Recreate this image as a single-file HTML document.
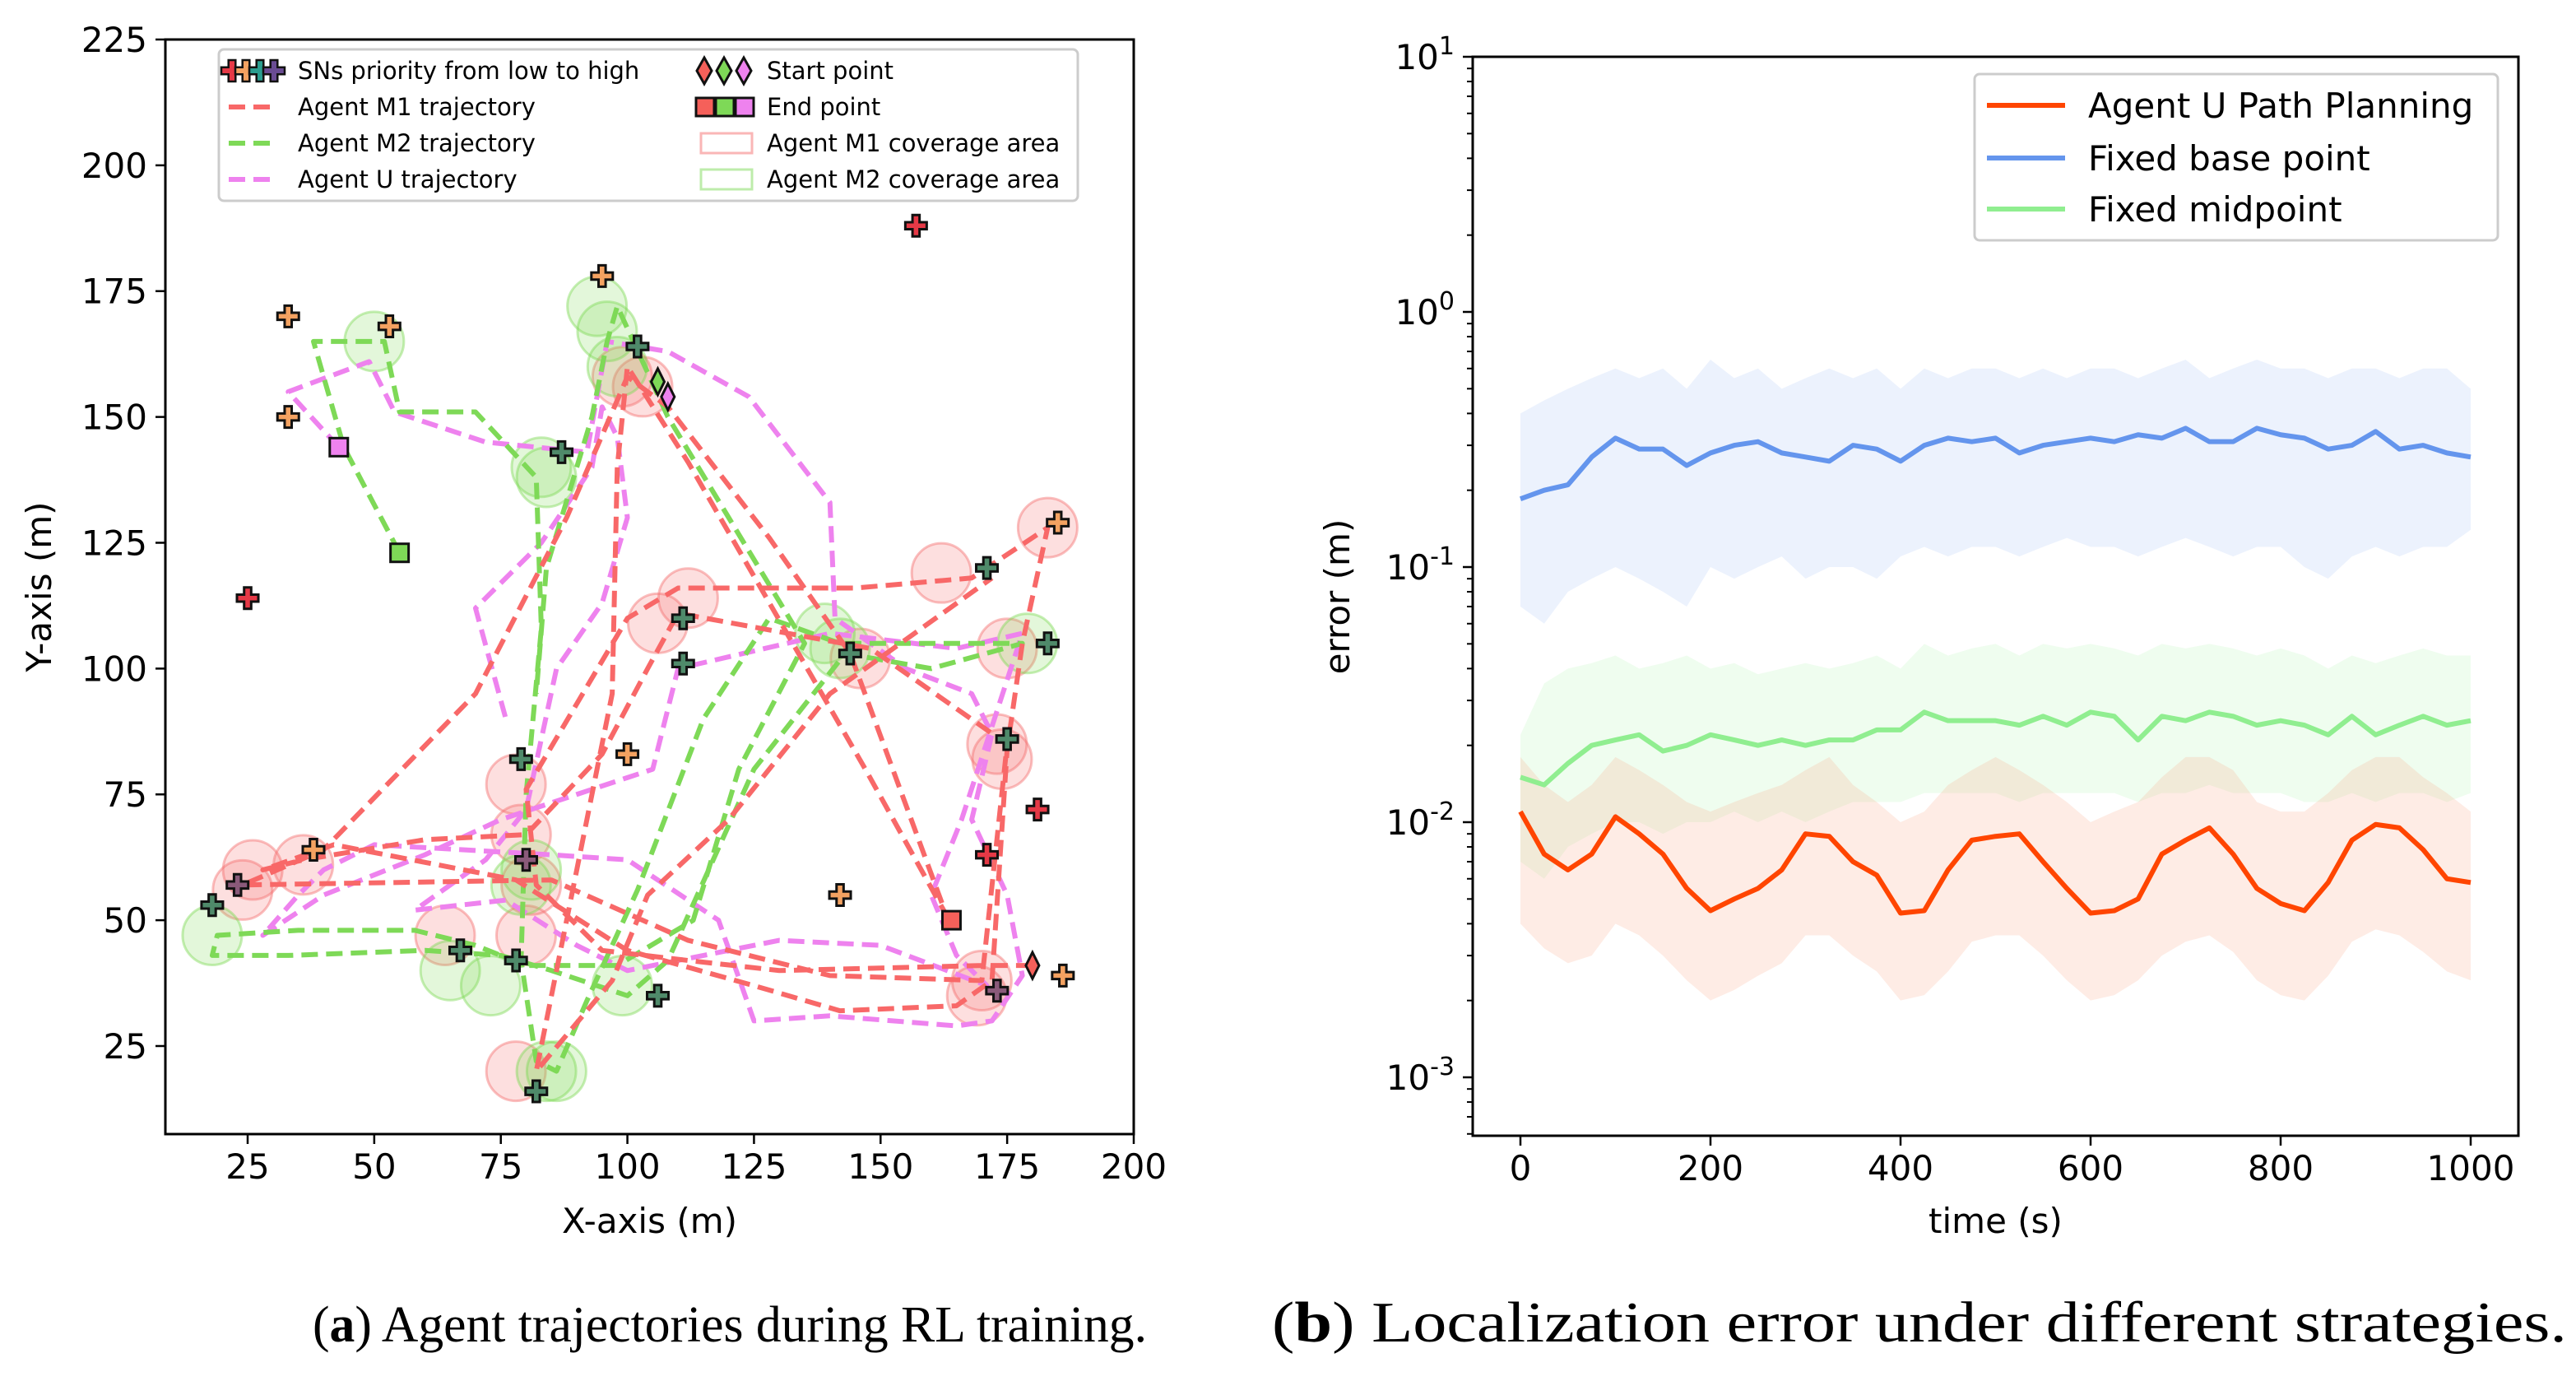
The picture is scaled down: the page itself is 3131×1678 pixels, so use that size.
<!DOCTYPE html>
<html><head><meta charset="utf-8"><style>
html,body{margin:0;padding:0;background:#fff;}
svg{display:block;}
text{font-family:"DejaVu Sans","Liberation Sans",sans-serif;}
.cap{font-family:"Liberation Serif",serif;font-size:62px;}
</style></head><body>
<svg id="fig" width="3131" height="1678" viewBox="0 0 3131 1678" xmlns="http://www.w3.org/2000/svg">
<g id="left"></g>
<g id="right"></g>
<text class="cap" x="380" y="1630" textLength="1014" lengthAdjust="spacingAndGlyphs">(<tspan font-weight="bold">a</tspan>) Agent trajectories during RL training.</text>
<text class="cap" x="1546" y="1630" style="font-size:70px" textLength="1574" lengthAdjust="spacingAndGlyphs">(<tspan font-weight="bold">b</tspan>) Localization error under different strategies.</text>
</svg>
<script>
// ---------- Left chart data ----------
const xTicksL = [25,50,75,100,125,150,175,200];
const yTicksL = [25,50,75,100,125,150,175,200,225];
const snRed = [[157,188],[25,114],[181,72],[171,63]];
const snOrange = [[33,170],[53,168],[33,150],[95,178],[185,129],[100,83],[142,55],[186,39],[38,64]];
const snTeal = [[87,143],[102,164],[171,120],[111,110],[144,103],[183,105],[79,82],[175,86],[18,53],[67,44],[78,42],[106,35],[82,16],[111,101]];
const snPurple = [[80,62],[23,57],[173,36]];
const circM1 = [[24,56],[26,60],[36,61],[78,77],[79,67],[81,57],[80,47],[64,47],[78,20],[99,158],[103,156],[106,109],[112,114],[146,102],[162,119],[173,85],[174,82],[170,38],[169,35],[183,128],[175,104]];
const circM2 = [[18,47],[50,165],[83,140],[84,138],[94,172],[96,167],[98,160],[139,107],[142,104],[179,105],[65,40],[73,37],[99,37],[84,20],[86,20],[79,57],[81,60]];
const pathM1 = [[180,41],[170,41],[130,40],[112,42],[95,44],[82,57],[80,76],[100,110],[110,116],[145,116],[168,118],[183,128],[178,105],[175,84],[172,38],[165,33],[142,32],[125,37],[100,44],[78,58],[42,65],[28,60],[36,62],[60,66],[80,67],[95,83],[104,100],[110,111],[148,104],[175,85],[170,38],[140,39],[112,46],[85,58],[24,57],[40,64],[70,95],[88,130],[100,158],[108,152],[128,126],[144,103],[163,51],[147,80],[112,141],[100,160],[98,140],[97,95],[82,20],[97,38],[104,55],[120,70],[140,95],[172,118]];
const pathM2 = [[55,123],[44,144],[38,165],[52,165],[55,151],[70,151],[82,138],[83,108],[80,75],[79,42],[82,22],[86,20],[92,34],[102,56],[115,90],[128,110],[142,105],[160,105],[178,105],[160,100],[143,103],[125,80],[108,42],[100,35],[85,40],[75,43],[60,44],[33,43],[18,43],[19,47],[35,48],[58,48],[70,45],[80,41],[98,41],[113,50],[122,80],[135,105],[126,120],[108,150],[98,172],[96,165],[93,150],[84,120],[82,95]];
const pathU = [[43,144],[33,155],[49,161],[54,151],[72,145],[92,143],[96,165],[108,163],[124,154],[140,133],[141,110],[155,100],[168,95],[172,87],[168,70],[175,55],[178,39],[172,30],[165,29],[140,31],[125,30],[118,50],[100,62],[85,63],[50,65],[40,60],[35,55],[28,47],[40,55],[60,63],[75,70],[90,75],[105,80],[110,100],[140,107],[165,104],[178,107],[166,70],[160,55],[165,43],[171,37],[150,45],[130,46],[100,40],[90,45],[76,54],[58,52],[72,62],[80,72],[86,100],[95,113],[100,130],[98,146],[95,152],[93,140],[83,125],[70,112],[76,90]];
const startPts = [[180,41,'#f5605a'],[106,157,'#7ed957'],[108,154,'#ee82ee']];
const endPts = [[164,50,'#f5605a'],[55,123,'#7ed957'],[43,144,'#ee82ee']];

// ---------- Right chart data ----------
const tSmooth = [0,25,50,75,100,125,150,175,200,225,250,275,300,325,350,375,400,425,450,475,500,525,550,575,600,625,650,675,700,725,750,775,800,825,850,875,900,925,950,975,1000];
const baseSmooth = [0.185,0.2,0.21,0.27,0.32,0.29,0.29,0.25,0.28,0.3,0.31,0.28,0.27,0.26,0.3,0.29,0.26,0.3,0.32,0.31,0.32,0.28,0.3,0.31,0.32,0.31,0.33,0.32,0.35,0.31,0.31,0.35,0.33,0.32,0.29,0.3,0.34,0.29,0.3,0.28,0.27];
const midSmooth = [0.015,0.014,0.017,0.02,0.021,0.022,0.019,0.02,0.022,0.021,0.02,0.021,0.02,0.021,0.021,0.023,0.023,0.027,0.025,0.025,0.025,0.024,0.026,0.024,0.027,0.026,0.021,0.026,0.025,0.027,0.026,0.024,0.025,0.024,0.022,0.026,0.022,0.024,0.026,0.024,0.025];
const pathSmooth = [0.011,0.0075,0.0065,0.0075,0.0105,0.009,0.0075,0.0055,0.0045,0.005,0.0055,0.0065,0.009,0.0088,0.007,0.0062,0.0044,0.0045,0.0065,0.0085,0.0088,0.009,0.007,0.0055,0.0044,0.0045,0.005,0.0075,0.0085,0.0095,0.0075,0.0055,0.0048,0.0045,0.0058,0.0085,0.0098,0.0095,0.0078,0.006,0.0058];
const baseHi = [0.4,0.45,0.5,0.55,0.6,0.55,0.6,0.5,0.65,0.55,0.6,0.5,0.55,0.6,0.55,0.6,0.5,0.6,0.55,0.6,0.6,0.55,0.6,0.55,0.6,0.6,0.55,0.6,0.65,0.55,0.6,0.65,0.6,0.6,0.55,0.6,0.6,0.55,0.6,0.6,0.5];
const baseLo = [0.07,0.06,0.08,0.09,0.1,0.09,0.08,0.07,0.1,0.09,0.1,0.11,0.09,0.1,0.1,0.09,0.11,0.12,0.11,0.12,0.12,0.11,0.12,0.13,0.12,0.12,0.11,0.12,0.13,0.12,0.11,0.12,0.12,0.1,0.09,0.11,0.12,0.11,0.12,0.12,0.14];
const midHi = [0.022,0.035,0.04,0.042,0.045,0.04,0.042,0.045,0.04,0.042,0.038,0.04,0.042,0.04,0.042,0.045,0.04,0.05,0.045,0.048,0.05,0.045,0.05,0.048,0.05,0.048,0.045,0.05,0.048,0.05,0.048,0.045,0.048,0.045,0.04,0.045,0.042,0.045,0.048,0.045,0.045];
const midLo = [0.007,0.006,0.008,0.009,0.01,0.01,0.009,0.01,0.01,0.011,0.01,0.011,0.01,0.011,0.012,0.012,0.012,0.013,0.013,0.013,0.013,0.012,0.013,0.013,0.013,0.013,0.012,0.013,0.013,0.014,0.013,0.013,0.013,0.012,0.012,0.013,0.012,0.013,0.013,0.012,0.013];
const pathHi = [0.018,0.014,0.012,0.014,0.018,0.016,0.014,0.012,0.011,0.012,0.013,0.014,0.016,0.018,0.014,0.012,0.01,0.011,0.014,0.016,0.018,0.016,0.014,0.012,0.01,0.011,0.012,0.015,0.018,0.018,0.016,0.012,0.011,0.011,0.013,0.016,0.018,0.018,0.015,0.013,0.011];
const pathLo = [0.004,0.0032,0.0028,0.003,0.004,0.0036,0.003,0.0024,0.002,0.0022,0.0025,0.0028,0.0036,0.0036,0.003,0.0026,0.002,0.0021,0.0026,0.0034,0.0036,0.0036,0.003,0.0024,0.002,0.0021,0.0024,0.003,0.0034,0.0036,0.0031,0.0024,0.0021,0.002,0.0025,0.0034,0.0038,0.0036,0.0031,0.0026,0.0024];
const xTicksR = [0,200,400,600,800,1000];
const yDecades = [-3,-2,-1,0,1];

const NS='http://www.w3.org/2000/svg';
function mk(tag, attrs, parent){const e=document.createElementNS(NS,tag);for(const k in attrs)e.setAttribute(k,attrs[k]);parent.appendChild(e);return e;}

// ---------- Left chart ----------
const L=document.getElementById('left');
const LX0=201,LX1=1378,LY0=48,LY1=1378, xmin=8.75,xmax=200,ymin=7.5,ymax=225;
const xL=v=>LX0+(v-xmin)/(xmax-xmin)*(LX1-LX0);
const yL=v=>LY1-(v-ymin)/(ymax-ymin)*(LY1-LY0);
const rad=36;
circM1.forEach(p=>{const c=mk('circle',{cx:xL(p[0]),cy:yL(p[1]),r:rad,fill:'rgba(248,110,110,0.22)',stroke:'rgba(245,110,110,0.45)','stroke-width':3},L);

});
circM2.forEach(p=>{const c=mk('circle',{cx:xL(p[0]),cy:yL(p[1]),r:rad,fill:'rgba(126,217,87,0.22)',stroke:'rgba(126,217,87,0.45)','stroke-width':3},L);

});
function poly(arr,color,name){const p=mk('polyline',{points:arr.map(q=>xL(q[0])+','+yL(q[1])).join(' '),fill:'none',stroke:color,'stroke-width':6,'stroke-dasharray':'20 10','stroke-linejoin':'round'},L);

}
poly(pathU,'#ee82ee','agent-u-trajectory');
poly(pathM2,'#7ed957','agent-m2-trajectory');
poly(pathM1,'#f86868','agent-m1-trajectory');
function plus(cx,cy,color,s){const a=s*0.33,b=s;const d=`M${cx-a},${cy-b}H${cx+a}V${cy-a}H${cx+b}V${cy+a}H${cx+a}V${cy+b}H${cx-a}V${cy+a}H${cx-b}V${cy-a}H${cx-a}Z`;return d;}
function drawSN(arr,color){arr.forEach(p=>{const e=mk('path',{d:plus(xL(p[0]),yL(p[1]),color,13),fill:color,stroke:'#111','stroke-width':3},L);

});}
drawSN(snRed,'#e63946');drawSN(snOrange,'#f4a261');drawSN(snTeal,'#4f8a6a');drawSN(snPurple,'#8a5a7a');
startPts.forEach(p=>{const cx=xL(p[0]),cy=yL(p[1]);const e=mk('path',{d:`M${cx},${cy-16}L${cx+8},${cy}L${cx},${cy+16}L${cx-8},${cy}Z`,fill:p[2],stroke:'#111','stroke-width':3},L);

});
endPts.forEach(p=>{const e=mk('rect',{x:xL(p[0])-11,y:yL(p[1])-11,width:22,height:22,fill:p[2],stroke:'#111','stroke-width':3},L);

});
const fr=mk('rect',{x:LX0,y:LY0,width:LX1-LX0,height:LY1-LY0,fill:'none',stroke:'#000','stroke-width':3},L);


xTicksL.forEach(v=>{const x=xL(v);mk('line',{x1:x,y1:LY1,x2:x,y2:LY1+12,stroke:'#000','stroke-width':2.5},L);
const t=mk('text',{x:x,y:LY1+54,'text-anchor':'middle','font-size':42},L);t.textContent=v;

});
yTicksL.forEach(v=>{const y=yL(v);mk('line',{x1:LX0-12,y1:y,x2:LX0,y2:y,stroke:'#000','stroke-width':2.5},L);
const t=mk('text',{x:LX0-22,y:y+15,'text-anchor':'end','font-size':42},L);t.textContent=v;

});
let t=mk('text',{x:(LX0+LX1)/2,y:1498,'text-anchor':'middle','font-size':42},L);t.textContent='X-axis (m)';


t=mk('text',{x:62,y:713,'text-anchor':'middle','font-size':42,transform:'rotate(-90 62 713)'},L);t.textContent='Y-axis (m)';


// legend
const lg=mk('g',{},L);


mk('rect',{x:266,y:60,width:1044,height:184,rx:6,fill:'#fff','fill-opacity':0.85,stroke:'#ccc','stroke-width':3},lg);
const rows=[86,130,174,218];
['#e63946','#f4a261','#2a9d8f','#6a4c93'].forEach((c,i)=>{mk('path',{d:plus(282+i*17,rows[0],c,13),fill:c,stroke:'#111','stroke-width':2.5},lg);});
[['#f86868',1],['#7ed957',2],['#ee82ee',3]].forEach(a=>{mk('line',{x1:278,y1:rows[a[1]],x2:338,y2:rows[a[1]],stroke:a[0],'stroke-width':6,'stroke-dasharray':'20 10'},lg);});
['SNs priority from low to high','Agent M1 trajectory','Agent M2 trajectory','Agent U trajectory'].forEach((s,i)=>{const e=mk('text',{x:362,y:rows[i]+10,'font-size':29},lg);e.textContent=s;

});
['#f5605a','#7ed957','#ee82ee'].forEach((c,i)=>{const cx=856+i*24,cy=rows[0];mk('path',{d:`M${cx},${cy-16}L${cx+9},${cy}L${cx},${cy+16}L${cx-9},${cy}Z`,fill:c,stroke:'#111','stroke-width':3},lg);
mk('rect',{x:846+i*24,y:rows[1]-11,width:22,height:22,fill:c,stroke:'#111','stroke-width':3},lg);});
mk('rect',{x:852,y:rows[2]-12,width:62,height:24,fill:'none',stroke:'rgba(245,110,110,0.5)','stroke-width':3},lg);
mk('rect',{x:852,y:rows[3]-12,width:62,height:24,fill:'none',stroke:'rgba(126,217,87,0.5)','stroke-width':3},lg);
['Start point','End point','Agent M1 coverage area','Agent M2 coverage area'].forEach((s,i)=>{const e=mk('text',{x:932,y:rows[i]+10,'font-size':29},lg);e.textContent=s;

});

// ---------- Right chart ----------
const R=document.getElementById('right');
const RX0=1790,RX1=3061,RY0=69,RY1=1380;
const xR=v=>1848+v*1.155;
const yR=v=>999-(Math.log10(v)+2)*310;
function band(hi,lo,color,name){const pts=tSmooth.map((tt,i)=>xR(tt)+','+yR(hi[i])).concat(tSmooth.slice().reverse().map((tt,j)=>xR(tt)+','+yR(lo[tSmooth.length-1-j])));
const e=mk('polygon',{points:pts.join(' '),fill:color,'fill-opacity':0.22},R);

}
band(baseHi,baseLo,'#a9c4f5','base-noise-band');
band(midHi,midLo,'#b6f5b6','mid-noise-band');
band(pathHi,pathLo,'#f9a98a','path-noise-band');
function line(vals,color,name){const e=mk('polyline',{points:tSmooth.map((tt,i)=>xR(tt)+','+yR(vals[i])).join(' '),fill:'none',stroke:color,'stroke-width':6,'stroke-linejoin':'round'},R);

}
line(baseSmooth,'#6495ed','fixed-base-point-line');
line(midSmooth,'#90ee90','fixed-midpoint-line');
line(pathSmooth,'#ff4500','agent-u-path-line');
const fr2=mk('rect',{x:RX0,y:RY0,width:RX1-RX0,height:RY1-RY0,fill:'none',stroke:'#000','stroke-width':3},R);


xTicksR.forEach(v=>{const x=xR(v);mk('line',{x1:x,y1:RY1,x2:x,y2:RY1+12,stroke:'#000','stroke-width':2.5},R);
const e=mk('text',{x:x,y:RY1+54,'text-anchor':'middle','font-size':42},R);e.textContent=v;

});
yDecades.forEach(d=>{const y=yR(Math.pow(10,d));mk('line',{x1:RX0-12,y1:y,x2:RX0,y2:y,stroke:'#000','stroke-width':2.5},R);
const e=mk('text',{x:RX0-22,y:y+15,'text-anchor':'end','font-size':42},R);e.innerHTML='10<tspan dy="-18" font-size="30">'+d+'</tspan>';


for(let m=2;m<=9;m++){const yy=yR(m*Math.pow(10,d-1));if(yy<RY1&&yy>RY0)mk('line',{x1:RX0-7,y1:yy,x2:RX0,y2:yy,stroke:'#000','stroke-width':2},R);}});
t=mk('text',{x:(RX0+RX1)/2,y:1498,'text-anchor':'middle','font-size':42},R);t.textContent='time (s)';


t=mk('text',{x:1640,y:725,'text-anchor':'middle','font-size':42,transform:'rotate(-90 1640 725)'},R);t.textContent='error (m)';


const lg2=mk('g',{},R);


mk('rect',{x:2400,y:90,width:636,height:202,rx:6,fill:'#fff',stroke:'#ccc','stroke-width':3},lg2);
[['Agent U Path Planning','#ff4500',128],['Fixed base point','#6495ed',192],['Fixed midpoint','#90ee90',254]].forEach(a=>{
mk('line',{x1:2415,y1:a[2],x2:2510,y2:a[2],stroke:a[1],'stroke-width':6},lg2);
const e=mk('text',{x:2538,y:a[2]+15,'font-size':42},lg2);e.textContent=a[0];

});
</script>
</body></html>
